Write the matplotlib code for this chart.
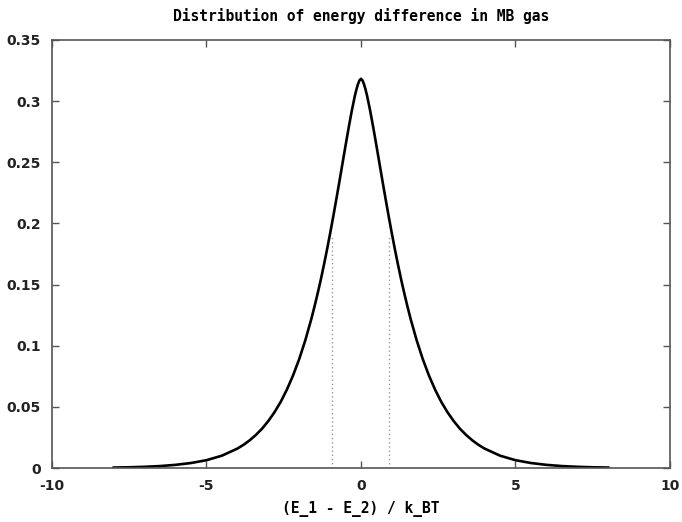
import matplotlib
matplotlib.use("Agg")
import matplotlib.pyplot as plt

# -------------------- DATA --------------------
de = [-8.0, -7.5, -7.0, -6.5, -6.0, -5.5, -5.0, -4.5, -4.0, -3.8, -3.6, -3.4,
      -3.2, -3.0, -2.8, -2.6, -2.4, -2.2, -2.0, -1.8, -1.6, -1.5, -1.4, -1.3,
      -1.2, -1.1, -1.0, -0.9, -0.8, -0.7, -0.6, -0.5, -0.4, -0.3, -0.2, -0.15,
      -0.1, -0.05, 0.0,
      0.05, 0.1, 0.15, 0.2, 0.3, 0.4, 0.5, 0.6, 0.7, 0.8, 0.9, 1.0, 1.1, 1.2,
      1.3, 1.4, 1.5, 1.6, 1.8, 2.0, 2.2, 2.4, 2.6, 2.8, 3.0, 3.2, 3.4, 3.6,
      3.8, 4.0, 4.5, 5.0, 5.5, 6.0, 6.5, 7.0, 7.5, 8.0]
density = [0.0004, 0.0006, 0.0010, 0.0016, 0.0026, 0.0041, 0.0064, 0.0101,
           0.0159, 0.0190, 0.0227, 0.0271, 0.0322, 0.0384, 0.0456, 0.0540,
           0.0640, 0.0756, 0.0890, 0.1046, 0.1225, 0.1325, 0.1430, 0.1541,
           0.1660, 0.1785, 0.1916, 0.2053, 0.2195, 0.2340, 0.2488, 0.2636,
           0.2781, 0.2918, 0.3041, 0.3093, 0.3137, 0.3169, 0.3183,
           0.3169, 0.3137, 0.3093, 0.3041, 0.2918, 0.2781, 0.2636, 0.2488,
           0.2340, 0.2195, 0.2053, 0.1916, 0.1785, 0.1660, 0.1541, 0.1430,
           0.1325, 0.1225, 0.1046, 0.0890, 0.0756, 0.0640, 0.0540, 0.0456,
           0.0384, 0.0322, 0.0271, 0.0227, 0.0190, 0.0159, 0.0101, 0.0064,
           0.0041, 0.0026, 0.0016, 0.0010, 0.0006, 0.0004]

# dotted markers
mark_x = [-0.93, 0.92]
mark_top = [0.19, 0.19]

xticks = [-10, -5, 0, 5, 10]
yticks = [0, 0.05, 0.1, 0.15, 0.2, 0.25, 0.3, 0.35]
ytick_labels = ["0", "0.05", "0.1", "0.15", "0.2", "0.25", "0.3", "0.35"]

# -------------------- PLOT --------------------
fig = plt.figure(figsize=(6.82, 5.22), dpi=100)
ax = fig.add_axes([0.0762, 0.1034, 0.9062, 0.82])

ax.plot(de, density, color="black", lw=1.9, solid_joinstyle="round")
ax.vlines(mark_x, 0, mark_top, colors="#999999", linestyles=(0, (1, 2)), lw=1.0)

ax.set_xlim(-10, 10)
ax.set_ylim(0, 0.35)
ax.set_xticks(xticks)
ax.set_xticklabels([str(t) for t in xticks])
ax.set_yticks(yticks)
ax.set_yticklabels(ytick_labels)

ax.tick_params(direction="in", length=5, width=1, color="#555555",
               top=True, right=True, labelsize=10, pad=8)
for lab in ax.get_xticklabels() + ax.get_yticklabels():
    lab.set_fontweight("bold")
    lab.set_color("#222222")
for sp in ax.spines.values():
    sp.set_color("#555555")
    sp.set_linewidth(1.2)

ax.set_title("Distribution of energy difference in MB gas",
             family="DejaVu Sans Mono", fontweight="bold", fontsize=10.5,
             pad=14)
ax.set_xlabel("(E_1 - E_2) / k_BT", family="DejaVu Sans Mono",
              fontweight="bold", fontsize=10.5, labelpad=6)

plt.savefig("out.png", dpi=100)
